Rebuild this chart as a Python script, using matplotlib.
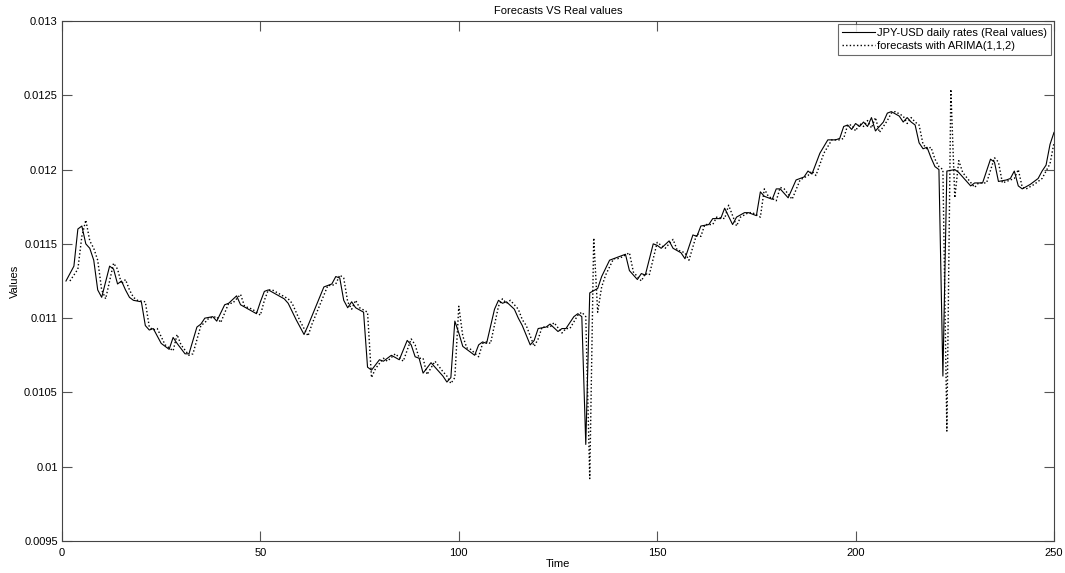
import matplotlib
matplotlib.use("Agg")
import matplotlib.pyplot as plt

plt.rcParams['font.family'] = ['Liberation Sans', 'DejaVu Sans']

# real JPY-USD values (time, value)
real_t = [1, 3, 4, 5, 6, 7, 8, 9, 10, 12,
          13, 14, 15, 16, 17, 18, 20, 21, 22, 23,
          25, 27, 28, 29, 31, 32, 34, 35, 36, 38,
          39, 41, 42, 44, 45, 47, 49, 50, 51, 52,
          54, 56, 57, 59, 61, 62, 64, 66, 67, 68,
          69, 70, 71, 72, 73, 74, 76, 77, 78, 80,
          81, 83, 85, 87, 88, 89, 90, 91, 93, 95,
          96, 97, 98, 99, 100, 101, 102, 104, 105, 106,
          107, 109, 110, 111, 112, 114, 115, 116, 118, 119,
          120, 122, 123, 125, 126, 127, 129, 130, 131, 132,
          133, 135, 136, 138, 139, 140, 142, 143, 145, 146,
          147, 149, 150, 151, 153, 154, 156, 157, 159, 160,
          161, 163, 164, 166, 167, 169, 170, 172, 173, 175,
          176, 177, 179, 180, 181, 183, 185, 187, 188, 189,
          191, 193, 195, 196, 197, 198, 199, 200, 201, 202,
          203, 204, 205, 207, 208, 209, 211, 212, 213, 214,
          215, 216, 217, 218, 219, 220, 221, 222, 223, 225,
          226, 229, 230, 232, 234, 235, 236, 238, 239, 240,
          241, 242, 244, 246, 247, 248, 249, 250]
real_v = [0.01125, 0.01135, 0.01160, 0.01162, 0.01150, 0.01147, 0.01139, 0.01119, 0.01114, 0.01135,
          0.01133, 0.01123, 0.01125, 0.01119, 0.01114, 0.01112, 0.01111, 0.01095, 0.01092, 0.01093,
          0.01083, 0.01079, 0.01087, 0.01083, 0.01076, 0.01076, 0.01094, 0.01096, 0.01100, 0.01101,
          0.01098, 0.01109, 0.01110, 0.01115, 0.01109, 0.01106, 0.01103, 0.01111, 0.01118, 0.01119,
          0.01116, 0.01113, 0.01110, 0.01099, 0.01089, 0.01095, 0.01108, 0.01121, 0.01122, 0.01123,
          0.01128, 0.01127, 0.01112, 0.01107, 0.01111, 0.01107, 0.01104, 0.01067, 0.01065, 0.01072,
          0.01071, 0.01075, 0.01072, 0.01085, 0.01082, 0.01074, 0.01073, 0.01063, 0.01070, 0.01064,
          0.01061, 0.01057, 0.01060, 0.01098, 0.01090, 0.01081, 0.01079, 0.01075, 0.01082, 0.01084,
          0.01083, 0.01106, 0.01112, 0.01110, 0.01111, 0.01106, 0.01100, 0.01095, 0.01082, 0.01085,
          0.01093, 0.01094, 0.01096, 0.01091, 0.01093, 0.01093, 0.01101, 0.01103, 0.01101, 0.01015,
          0.01117, 0.01120, 0.01128, 0.01139, 0.01140, 0.01141, 0.01143, 0.01132, 0.01126, 0.01130,
          0.01129, 0.01150, 0.01149, 0.01147, 0.01152, 0.01147, 0.01144, 0.01140, 0.01156, 0.01155,
          0.01162, 0.01163, 0.01167, 0.01167, 0.01174, 0.01163, 0.01168, 0.01171, 0.01171, 0.01169,
          0.01185, 0.01182, 0.01180, 0.01187, 0.01187, 0.01181, 0.01193, 0.01195, 0.01199, 0.01197,
          0.01211, 0.01220, 0.01220, 0.01221, 0.01229, 0.01230, 0.01227, 0.01231, 0.01229, 0.01232,
          0.01229, 0.01235, 0.01226, 0.01232, 0.01238, 0.01239, 0.01236, 0.01232, 0.01235, 0.01232,
          0.01230, 0.01218, 0.01214, 0.01215, 0.01208, 0.01202, 0.01200, 0.01061, 0.01199, 0.01200,
          0.01198, 0.01189, 0.01191, 0.01191, 0.01207, 0.01205, 0.01192, 0.01193, 0.01194, 0.01199,
          0.01189, 0.01187, 0.01190, 0.01194, 0.01199, 0.01203, 0.01217, 0.01225]

# ARIMA(1,1,2) forecasts
fc_t = [2, 4, 5, 6, 7, 8, 9, 10, 11, 13,
        14, 15, 16, 17, 18, 19, 21, 22, 23, 24,
        26, 28, 29, 30, 32, 33, 35, 36, 37, 39,
        40, 42, 43, 45, 46, 48, 50, 51, 52, 53,
        55, 57, 58, 60, 62, 63, 65, 67, 68, 69,
        70, 71, 72, 73, 74, 75, 77, 78, 79, 81,
        82, 84, 86, 88, 89, 90, 91, 92, 94, 96,
        97, 98, 99, 100, 101, 102, 103, 105, 106, 107,
        108, 110, 111, 112, 113, 115, 116, 117, 119, 120,
        121, 123, 124, 126, 127, 128, 130, 131, 132, 133,
        134, 135, 136, 137, 139, 140, 141, 143, 144, 146,
        147, 148, 150, 151, 152, 154, 155, 157, 158, 160,
        161, 162, 164, 165, 167, 168, 170, 171, 173, 174,
        176, 177, 178, 180, 181, 182, 184, 186, 188, 189,
        190, 192, 194, 196, 197, 198, 199, 200, 201, 202,
        203, 204, 205, 206, 208, 209, 210, 212, 213, 214,
        215, 216, 217, 218, 219, 220, 221, 222, 223, 224,
        225, 226, 227, 230, 231, 233, 235, 236, 237, 239,
        240, 241, 242, 243, 245, 247, 248, 249, 250]
fc_v = [0.01125, 0.01133, 0.01155, 0.01166, 0.01152, 0.01147, 0.01139, 0.01119, 0.01113, 0.01137,
        0.01133, 0.01123, 0.01126, 0.01119, 0.01114, 0.01112, 0.01111, 0.01094, 0.01092, 0.01093,
        0.01082, 0.01078, 0.01089, 0.01082, 0.01075, 0.01076, 0.01095, 0.01097, 0.01100, 0.01101,
        0.01097, 0.01110, 0.01110, 0.01116, 0.01108, 0.01106, 0.01102, 0.01112, 0.01119, 0.01119,
        0.01116, 0.01113, 0.01110, 0.01098, 0.01088, 0.01096, 0.01109, 0.01122, 0.01122, 0.01123,
        0.01129, 0.01127, 0.01111, 0.01106, 0.01112, 0.01107, 0.01104, 0.01060, 0.01066, 0.01073,
        0.01071, 0.01076, 0.01071, 0.01086, 0.01082, 0.01073, 0.01073, 0.01062, 0.01071, 0.01064,
        0.01061, 0.01056, 0.01060, 0.01108, 0.01088, 0.01080, 0.01079, 0.01074, 0.01083, 0.01084,
        0.01083, 0.01108, 0.01113, 0.01110, 0.01112, 0.01106, 0.01099, 0.01095, 0.01081, 0.01086,
        0.01094, 0.01094, 0.01097, 0.01090, 0.01093, 0.01093, 0.01102, 0.01104, 0.01101, 0.00992,
        0.01154, 0.01104, 0.01121, 0.01129, 0.01140, 0.01140, 0.01141, 0.01144, 0.01131, 0.01125,
        0.01130, 0.01129, 0.01151, 0.01149, 0.01147, 0.01153, 0.01146, 0.01144, 0.01139, 0.01157,
        0.01155, 0.01163, 0.01163, 0.01168, 0.01167, 0.01176, 0.01162, 0.01168, 0.01171, 0.01171,
        0.01168, 0.01187, 0.01182, 0.01179, 0.01188, 0.01187, 0.01180, 0.01193, 0.01196, 0.01199,
        0.01196, 0.01211, 0.01220, 0.01220, 0.01221, 0.01230, 0.01230, 0.01226, 0.01231, 0.01229,
        0.01233, 0.01228, 0.01235, 0.01225, 0.01233, 0.01238, 0.01239, 0.01236, 0.01231, 0.01235,
        0.01232, 0.01230, 0.01217, 0.01214, 0.01215, 0.01207, 0.01202, 0.01200, 0.01024, 0.01254,
        0.01181, 0.01206, 0.01198, 0.01188, 0.01191, 0.01191, 0.01208, 0.01205, 0.01191, 0.01193,
        0.01194, 0.01200, 0.01188, 0.01187, 0.01190, 0.01194, 0.01199, 0.01204, 0.01218]

fig = plt.figure(figsize=(10.65, 5.73), dpi=100)
ax = fig.add_axes([62 / 1065, 32 / 573, 992 / 1065, 520 / 573])

ax.plot(real_t, real_v, color='black', linewidth=0.8, label='JPY-USD daily rates (Real values)')
ax.plot(fc_t, fc_v, color='black', linewidth=1.0, linestyle=(0, (1, 1.6)),
        label='forecasts with ARIMA(1,1,2)')

ax.set_xlim(0, 250)
ax.set_ylim(0.0095, 0.013)
ax.set_xticks([0, 50, 100, 150, 200, 250])
ax.set_yticks([0.0095, 0.01, 0.0105, 0.011, 0.0115, 0.012, 0.0125, 0.013])
ax.set_yticklabels(['0.0095', '0.01', '0.0105', '0.011', '0.0115', '0.012', '0.0125', '0.013'])
ax.tick_params(direction='in', length=7, width=0.8, color='#555555', labelsize=8,
               top=True, right=True, pad=3)
ax.tick_params(axis='x', pad=5)
for s in ax.spines.values():
    s.set_color('#444444')
    s.set_linewidth(0.8)

ax.set_title('Forecasts VS Real values', fontsize=8, pad=5)
ax.set_xlabel('Time', fontsize=8, labelpad=1)
ax.set_ylabel('Values', fontsize=8, labelpad=3)

leg = ax.legend(loc='upper right', fontsize=8, frameon=True, fancybox=False,
                handlelength=2.9, handletextpad=0.2, borderpad=0.35, labelspacing=0.25,
                borderaxespad=0.3)
leg.get_frame().set_edgecolor('#444444')
leg.get_frame().set_linewidth(0.8)

fig.savefig('out.png', dpi=100, facecolor='white')
